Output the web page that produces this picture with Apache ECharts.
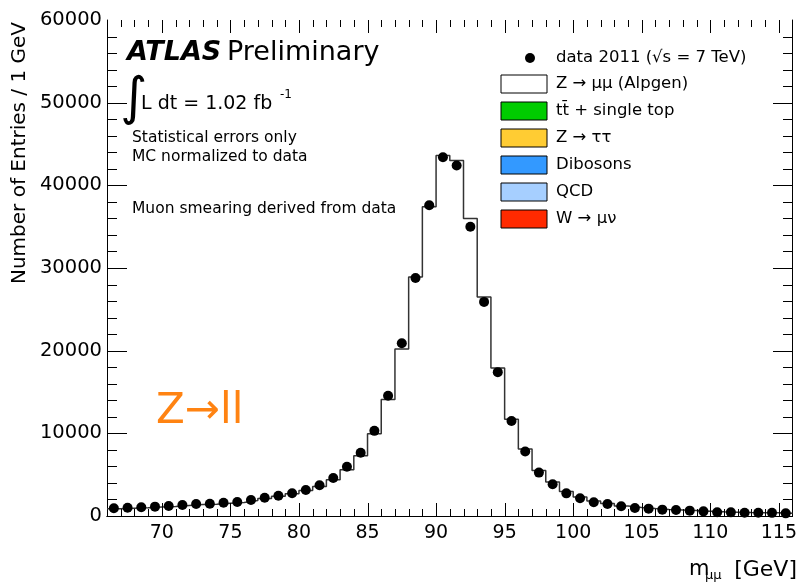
<!DOCTYPE html>
<html>
<head>
<meta charset="utf-8">
<script src="https://cdn.jsdelivr.net/npm/echarts@6/dist/echarts.min.js"></script>
<style>
  html, body { margin: 0; padding: 0; background: #fff; }
  #chart { width: 800px; height: 588px; }
</style>
</head>
<body>
<div id="chart"></div>
<script>
// bin edges of m_mumu in GeV (1 GeV bins)
var binEdges = [66, 67, 68, 69, 70, 71, 72, 73, 74, 75, 76, 77, 78, 79, 80, 81, 82, 83, 84, 85,
                86, 87, 88, 89, 90, 91, 92, 93, 94, 95, 96, 97, 98, 99, 100, 101, 102, 103, 104, 105,
                106, 107, 108, 109, 110, 111, 112, 113, 114, 115, 116];
// data 2011, entries per bin
var dataCounts = [930, 1000, 1050, 1130, 1210, 1330, 1450, 1490, 1610, 1690, 1940, 2210, 2460, 2750, 3150, 3710, 4600, 5960, 7660, 10300,
                  14550, 20900, 28800, 37600, 43400, 42400, 35000, 25900, 17400, 11500, 7800, 5250, 3850, 2740, 2140, 1670, 1450, 1170, 970, 890,
                  770, 730, 650, 560, 460, 440, 400, 400, 380, 320];
// Z -> mumu (Alpgen) MC, normalized to data
var mcCounts = [880, 950, 1000, 1080, 1160, 1270, 1380, 1430, 1550, 1630, 1870, 2130, 2380, 2680, 3080, 3580, 4380, 5600, 7300, 9950,
                14100, 20200, 28900, 37400, 43600, 43000, 36000, 26500, 17900, 11700, 8100, 5500, 4100, 2950, 2300, 1800, 1500, 1220, 1020, 900,
                800, 740, 660, 580, 500, 460, 420, 400, 380, 340];

// tick marks (ROOT style, inside the frame on all four sides)
var xMajorTicks = [70, 75, 80, 85, 90, 95, 100, 105, 110, 115];
var xMinorTicks = [67, 68, 69, 71, 72, 73, 74, 76, 77, 78, 79, 81, 82, 83, 84, 86, 87, 88, 89, 91, 92, 93, 94,
                   96, 97, 98, 99, 101, 102, 103, 104, 106, 107, 108, 109, 111, 112, 113, 114];
var yMajorTicks = [10000, 20000, 30000, 40000, 50000];
var yMinorTicks = [2000, 4000, 6000, 8000, 12000, 14000, 16000, 18000, 22000, 24000, 26000, 28000,
                   32000, 34000, 36000, 38000, 42000, 44000, 46000, 48000, 52000, 54000, 56000, 58000];

var legendNames = ['Z \u2192 \u03bc\u03bc (Alpgen)', 'tt\u0304 + single top', 'Z \u2192 \u03c4\u03c4', 'Dibosons', 'QCD', 'W \u2192 \u03bc\u03bd'];
var legendColors = ['#ffffff', '#00cc00', '#ffcc33', '#3399ff', '#a6cfff', '#ff2a00'];

var FONT = 'DejaVu Sans';
var X_MIN = 66, X_MAX = 116, Y_MIN = 0, Y_MAX = 60000;

var stepData = [];
var pointData = [];
for (var i = 0; i < mcCounts.length; i++) {
    stepData.push([binEdges[i], mcCounts[i]]);
    pointData.push([(binEdges[i] + binEdges[i + 1]) / 2, dataCounts[i]]);
}
stepData.push([binEdges[binEdges.length - 1], mcCounts[mcCounts.length - 1]]);

function txt(x, y, text, size, extra) {
    var style = { text: text, x: x, y: y, fill: '#000', font: size + 'px "' + FONT + '"', textVerticalAlign: 'middle' };
    for (var k in extra) style[k] = extra[k];
    return { type: 'text', z: 10, style: style };
}

var graphics = [
    txt(127, 53, 'ATLAS', 27, { font: 'italic bold 27px "' + FONT + '"' }),
    txt(227, 53, 'Preliminary', 27),
    txt(120, 100, '\u222b', 52),
    txt(141, 104, 'L dt = 1.02 fb', 19),
    txt(280, 95, '-1', 12),
    txt(132, 138, 'Statistical errors only', 15.5),
    txt(132, 157, 'MC normalized to data', 15.5),
    txt(132, 209, 'Muon smearing derived from data', 15.5),
    txt(156, 412, 'Z\u2192ll', 42, { fill: '#ff8312' }),
    { type: 'circle', z: 10, shape: { cx: 530, cy: 58, r: 5 }, style: { fill: '#000' } },
    txt(556, 58, 'data 2011 (\u221as = 7 TeV)', 16.5),
    // axis titles
    { type: 'text', z: 10, x: 20, y: 22, rotation: Math.PI / 2,
      style: { text: 'Number of Entries / 1 GeV', fill: '#000', font: '20px "' + FONT + '"', textAlign: 'right', textVerticalAlign: 'middle' } },
    txt(797, 570, '[GeV]', 22, { textAlign: 'right' }),
    txt(705, 576, '\u03bc\u03bc', 13),
    txt(689, 570, 'm', 21)
];
for (var j = 0; j < legendNames.length; j++) {
    var boxTop = 75 + 27 * j;
    graphics.push({ type: 'rect', z: 10, shape: { x: 501, y: boxTop, width: 46, height: 18 },
                    style: { fill: legendColors[j], stroke: '#000', lineWidth: 1 } });
    graphics.push(txt(556, boxTop + 9, legendNames[j], 16.5));
}

function xAxisDef(pos) {
    return {
        type: 'value', position: pos, min: X_MIN, max: X_MAX, splitNumber: 10,
        axisLine: { show: true, lineStyle: { color: '#000', width: 1 } },
        axisTick: { show: false },
        axisLabel: { show: pos === 'bottom', showMinLabel: false, showMaxLabel: false,
                     color: '#000', fontFamily: FONT, fontSize: 19, margin: 8 },
        splitLine: { show: false }
    };
}
function yAxisDef(pos) {
    return {
        type: 'value', position: pos, min: Y_MIN, max: Y_MAX, interval: 10000,
        axisLine: { show: true, lineStyle: { color: '#000', width: 1 } },
        axisTick: { show: false },
        axisLabel: { show: pos === 'left', color: '#000', fontFamily: FONT, fontSize: 19.5, margin: 5,
                     formatter: function (v) { return String(v); } },
        splitLine: { show: false }
    };
}

var chart = echarts.init(document.getElementById('chart'));
chart.setOption({
    animation: false,
    grid: { left: 107, right: 4, top: 20, bottom: 72 },
    xAxis: [xAxisDef('bottom'), xAxisDef('top')],
    yAxis: [yAxisDef('left'), yAxisDef('right')],
    series: [
        {
            name: 'Z -> mumu (Alpgen)', type: 'line', step: 'end', xAxisIndex: 0, yAxisIndex: 0,
            data: stepData, symbol: 'none',
            lineStyle: { color: '#333', width: 1.5 }, z: 2
        },
        {
            name: 'data 2011', type: 'scatter', xAxisIndex: 0, yAxisIndex: 0,
            data: pointData, symbolSize: 10,
            itemStyle: { color: '#000', opacity: 1 }, z: 3
        }
    ],
    graphic: graphics
});

// tick marks placed through the axes' own scales (convertToPixel), drawn as thin filled rects
function toPx(x, y) { return chart.convertToPixel({ gridIndex: 0 }, [x, y]); }
function tickRect(x, y, w, h) {
    return { type: 'rect', z: 20, silent: true, shape: { x: x, y: y, width: w, height: h }, style: { fill: '#000' } };
}
var tickGraphics = [];
function addXTick(v, len) {
    var b = toPx(v, Y_MIN), t = toPx(v, Y_MAX);
    var x = Math.round(b[0]);
    tickGraphics.push(tickRect(x, Math.round(b[1]) - len, 1, len));
    tickGraphics.push(tickRect(x, Math.round(t[1]), 1, len));
}
function addYTick(v, len) {
    var l = toPx(X_MIN, v), r = toPx(X_MAX, v);
    var y = Math.round(l[1]);
    tickGraphics.push(tickRect(Math.round(l[0]), y, len, 1));
    tickGraphics.push(tickRect(Math.round(r[0]) - len, y, len, 1));
}
xMajorTicks.forEach(function (v) { addXTick(v, 13); });
xMinorTicks.forEach(function (v) { addXTick(v, 7); });
yMajorTicks.forEach(function (v) { addYTick(v, 20); });
yMinorTicks.forEach(function (v) { addYTick(v, 10); });

chart.setOption({ graphic: graphics.concat(tickGraphics) });
</script>
</body>
</html>
